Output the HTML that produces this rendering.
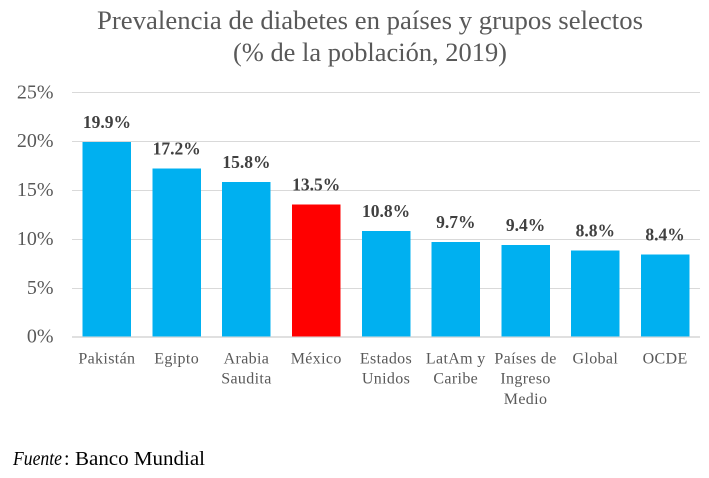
<!DOCTYPE html>
<html lang="es">
<head>
<meta charset="utf-8">
<title>Prevalencia de diabetes</title>
<style>
html,body{margin:0;padding:0;background:#fff;width:709px;height:478px;overflow:hidden}
svg{display:block;font-family:"Liberation Serif",serif}
</style>
</head>
<body>
<svg id="chart" width="709" height="478" viewBox="0 0 709 478" xmlns="http://www.w3.org/2000/svg">
<text x="370" y="29" text-anchor="middle" font-size="26" fill="#595959" textLength="546" lengthAdjust="spacingAndGlyphs">Prevalencia de diabetes en países y grupos selectos</text>
<text x="370" y="61" text-anchor="middle" font-size="26" fill="#595959" textLength="274" lengthAdjust="spacingAndGlyphs">(% de la población, 2019)</text>
<g id="grid"></g>
<g id="bars"></g>
<g id="yticks"></g>
<g id="values"></g>
<g id="cats"></g>
<text x="13" y="465" font-size="20" font-style="italic" fill="#000" textLength="49" lengthAdjust="spacingAndGlyphs">Fuente</text>
<text x="64" y="465" font-size="20" fill="#000">:</text>
<text x="75" y="465" font-size="20" fill="#000" textLength="130" lengthAdjust="spacingAndGlyphs">Banco Mundial</text>
</svg>
<script>
const categories = [["Pakistán"],["Egipto"],["Arabia","Saudita"],["México"],["Estados","Unidos"],["LatAm y","Caribe"],["Países de","Ingreso","Medio"],["Global"],["OCDE"]];
const prevalence = [19.9,17.2,15.8,13.5,10.8,9.7,9.4,8.8,8.4];
const highlighted = ["México"];
const yTicks = [0,5,10,15,20,25];

const NS = "http://www.w3.org/2000/svg";
const plotLeft = 72, plotRight = 700, plotTop = 92.3, plotBottom = 336.7, yMax = 25;
const band = (plotRight - plotLeft) / categories.length;
const barWidth = 48.5;
const yScale = v => plotBottom - (v / yMax) * (plotBottom - plotTop);
const xCenter = i => plotLeft + band * (i + 0.5);
const slug = s => s.toLowerCase().normalize("NFD").replace(/[\u0300-\u036f]/g, "").replace(/\s+/g, "-");

function make(tag, attrs, parent, content) {
  const el = document.createElementNS(NS, tag);
  for (const k in attrs) el.setAttribute(k, attrs[k]);
  if (content !== undefined) el.textContent = content;
  parent.appendChild(el);
  return el;
}

const gridG = document.getElementById("grid");
const yG = document.getElementById("yticks");
yTicks.forEach(t => {
  const y = yScale(t);
  const lineY = t === 0 ? 337 : Math.round(y + 0.1) + 0.5;
  const line = make("line", {x1: plotLeft, x2: plotRight, y1: lineY, y2: lineY, stroke: t === 0 ? "#e0e0e0" : "#d9d9d9", "stroke-width": t === 0 ? 2 : 1}, gridG);
  
  
  const label = make("text", {x: 53.5, y: y + 6, "text-anchor": "end", "font-size": 20, fill: "#595959"}, yG, t + "%");
  
  
});

const barG = document.getElementById("bars");
const valG = document.getElementById("values");
const catG = document.getElementById("cats");
categories.forEach((lines, i) => {
  const v = prevalence[i];
  const cx = xCenter(i);
  const name = slug(lines.join(" "));
  const top = yScale(v);
  const bar = make("rect", {x: cx - barWidth / 2, y: top, width: barWidth, height: plotBottom - top, fill: highlighted.includes(lines[0]) ? "#ff0000" : "#00b0f0", "shape-rendering": "crispEdges"}, barG);
  
  
  const val = make("text", {x: cx, y: top - 14, "text-anchor": "middle", "font-size": 17.5, "font-weight": "bold", fill: "#404040"}, valG, v.toFixed(1) + "%");
  
  
  lines.forEach((ln, j) => {
    const c = make("text", {x: cx, y: 363.3 + j * 20.4, "text-anchor": "middle", "font-size": 16, "letter-spacing": 0.35, fill: "#595959"}, catG, ln);
    
    
  });
});
</script>
</body>
</html>
